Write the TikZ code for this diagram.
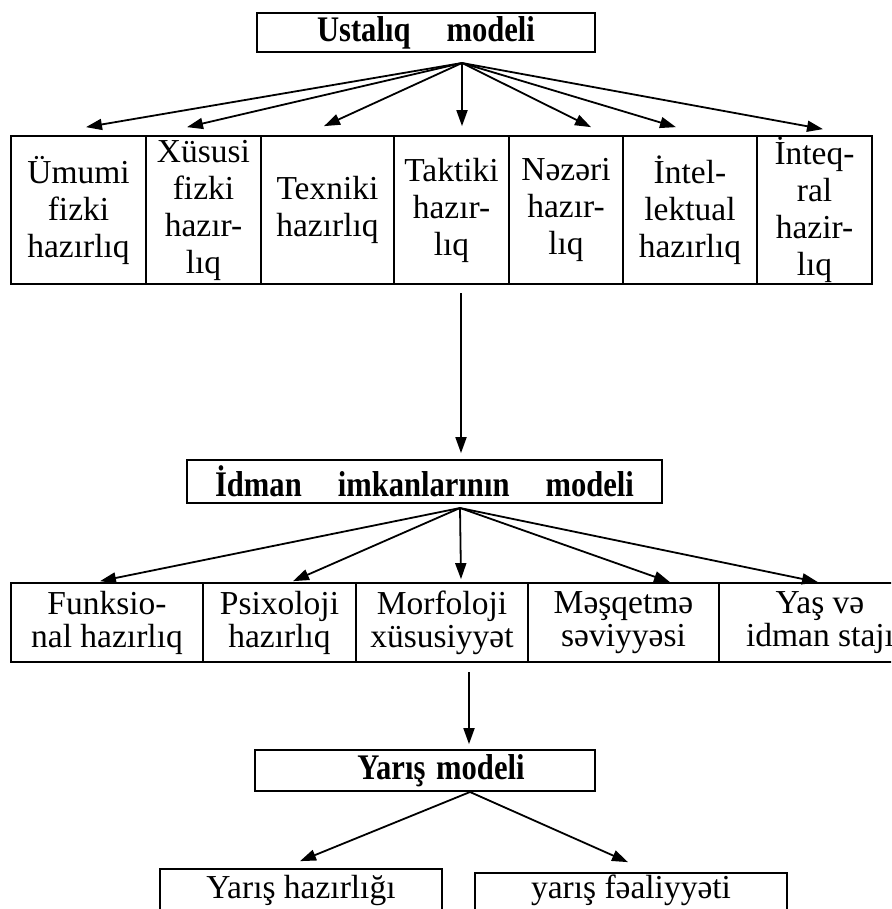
\documentclass[tikz,border=0pt]{standalone}
\usepackage{fontspec}
\setmainfont{Liberation Serif}
\newfontfamily\hdfont[FakeStretch=0.85]{Liberation Serif}
\usetikzlibrary{arrows.meta,calc}
\begin{document}
\begin{tikzpicture}[x=1pt,y=-1pt,
  cell/.style={draw, line width=1.7pt, inner sep=0pt, align=center,
    font=\fontsize{33.5}{37}\selectfont},
  cellb/.style={cell, font=\fontsize{33.5}{33}\selectfont},
  head/.style={draw, line width=1.7pt, inner sep=0pt,
    font=\hdfont\bfseries\fontsize{36}{38}\selectfont},
  arr/.style={line width=1.8pt, -{Triangle[length=16pt,width=11pt]}}]
\useasboundingbox (0,0) rectangle (891,909);
\clip (0,0) rectangle (891,909);
\fill[white] (0,0) rectangle (891,909);

% headings
\node[head, minimum width=338pt, minimum height=39pt] (h1) at (426,32.5) {Ustalıq\hspace{1em}modeli};
\node[head, minimum width=475pt, minimum height=43pt] (h2) at (424.5,481.5) {İdman\hspace{1em}imkanlarının\hspace{1em}modeli};
\node[head, minimum width=340pt, minimum height=41pt] (h3) at (425,770.5) {\hspace*{32pt}Yarış\hspace{0.3em}modeli};

% row 1
\node[cell, minimum width=135pt, minimum height=148pt] (c1) at (78.5,210) {Ümumi\\fizki\\hazırlıq};
\node[cell, minimum width=115pt, minimum height=148pt] (c2) at (203.5,210) {Xüsusi\\fizki\\hazır-\\lıq};
\node[cell, minimum width=133pt, minimum height=148pt] (c3) at (327.5,210) {Texniki\\hazırlıq};
\node[cell, minimum width=115pt, minimum height=148pt] (c4) at (451.5,210) {Taktiki\\hazır-\\lıq};
\node[cell, minimum width=114pt, minimum height=148pt] (c5) at (566,210) {Nəzəri\\hazır-\\lıq};
\node[cell, minimum width=134pt, minimum height=148pt] (c6) at (690,210) {İntel-\\lektual\\hazırlıq};
\node[cell, minimum width=115pt, minimum height=148pt] (c7) at (814.5,210) {İnteq-\\ral\\hazir-\\lıq};

% row 2
\node[cellb, minimum width=192pt, minimum height=79pt] (r1) at (107,622.5) {Funksio-\\nal hazırlıq};
\node[cellb, minimum width=153pt, minimum height=79pt] (r2) at (279.5,622.5) {Psixoloji\\hazırlıq};
\node[cellb, minimum width=172pt, minimum height=79pt] (r3) at (442,622.5) {Morfoloji\\xüsusiyyət};
\node[cellb, minimum width=191pt, minimum height=79pt] (r4) at (623.5,622.5) {Məşqetmə\\səviyyəsi};
\node[cellb, minimum width=202pt, minimum height=79pt] (r5) at (820,622.5) {Yaş və\\idman stajı};

% bottom
\node[cell, minimum width=282pt, text height=29pt, text depth=31pt, anchor=base] (b1) at (301,898) {Yarış hazırlığı};
\node[cell, minimum width=312pt, text height=25pt, text depth=31pt, anchor=base] (b2) at (631,898) {yarış fəaliyyəti};

% arrows from heading 1
\coordinate (t1) at (462,63);
\draw[arr] (t1) -- ([xshift=7.5pt,yshift=8pt]c1.north);
\draw[arr] (t1) -- ([xshift=-16.5pt,yshift=8pt]c2.north);
\draw[arr] (t1) -- ([xshift=-3.5pt,yshift=9pt]c3.north);
\draw[arr] (t1) -- ([xshift=10.5pt,yshift=9pt]c4.north);
\draw[arr] (t1) -- ([xshift=25pt,yshift=8pt]c5.north);
\draw[arr] (t1) -- ([xshift=-14pt,yshift=8pt]c6.north);
\draw[arr] (t1) -- ([xshift=8.5pt,yshift=6pt]c7.north);

% vertical arrow 1
\coordinate (v1) at (461,293);
\draw[arr] (v1) -- ($(v1 |- h2.north)+(0,-6)$);

% arrows from heading 2
\coordinate (t2) at (460,508);
\draw[arr] (t2) -- ([xshift=-7pt,yshift=1pt]r1.north);
\draw[arr] (t2) -- ([xshift=13.5pt,yshift=1pt]r2.north);
\draw[arr] (t2) -- ([xshift=19pt,yshift=3pt]r3.north);
\draw[arr] (t2) -- ([xshift=46.5pt,yshift=0pt]r4.north);
\draw[arr] (t2) -- ([xshift=-2pt,yshift=0pt]r5.north);

% vertical arrow 2
\coordinate (v2) at (469,672);
\draw[arr] (v2) -- ($(v2 |- h3.north)+(0,-5)$);

% arrows from heading 3
\coordinate (t3) at (470,792);
\draw[arr] (t3) -- ([xshift=-1pt,yshift=7pt]b1.north);
\draw[arr] (t3) -- ([xshift=-3pt,yshift=10pt]b2.north);
\end{tikzpicture}
\end{document}
